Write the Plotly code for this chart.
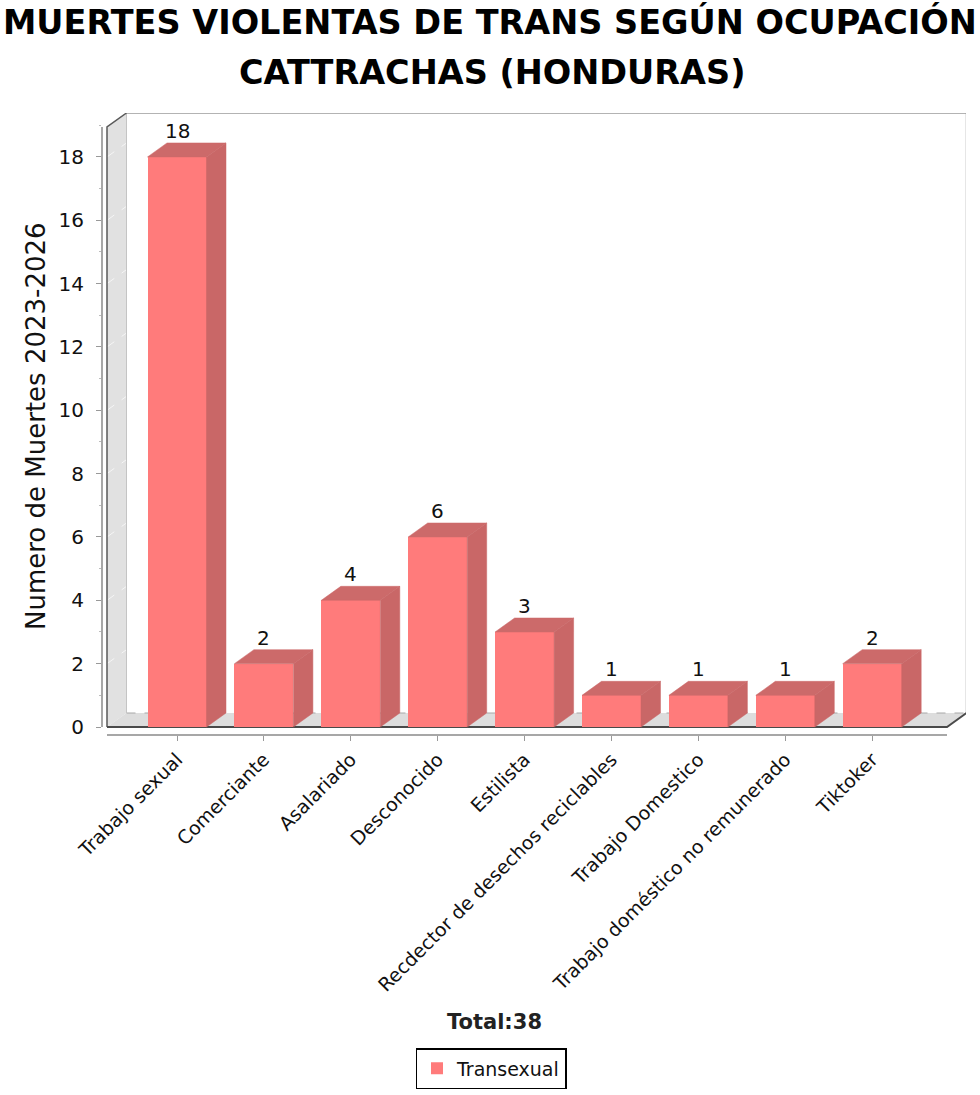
import plotly.graph_objects as go

# ---------------- data ----------------
categories = ["Trabajo sexual", "Comerciante", "Asalariado", "Desconocido", "Estilista",
              "Recdector de desechos reciclables", "Trabajo Domestico",
              "Trabajo doméstico no remunerado", "Tiktoker"]
values = [18, 2, 4, 6, 3, 1, 1, 1, 2]
series_name = "Transexual"
y_ticks = [0, 2, 4, 6, 8, 10, 12, 14, 16, 18]
title_lines = ["MUERTES VIOLENTAS DE TRANS SEGÚN OCUPACIÓN", "CATTRACHAS (HONDURAS)"]
y_title = "Numero de Muertes 2023-2026"
total_text = "Total:38"

# ---------------- layout geometry (pixels) ----------------
W, H = 980, 1095
L, R, T, B = 102, 966, 113, 735          # plot area
CAT0_PX, CAT_STEP = 177.0, 86.9          # category 0 centre, spacing
ZERO_PX, UNIT_PX = 727.0, 31.67          # value 0 pixel, px per unit
DX_PX, DY_PX = 19.5, 14.0                # 3D depth offset
FRONT_L_PX, FRONT_R_PX = 107, 947
BAR_HALF_PX = 29.5

def xv(px):
    return (px - CAT0_PX) / CAT_STEP

def yv(py):
    return (ZERO_PX - py) / UNIT_PX

def xp(px):
    return (px - L) / (R - L)

def yp(py):
    return (B - py) / (B - T)

dx = DX_PX / CAT_STEP
dy = DY_PX / UNIT_PX
hw = BAR_HALF_PX / CAT_STEP
x_fl, x_fr = xv(FRONT_L_PX), xv(FRONT_R_PX)
y_top = yv(127)

FRONT = "#ff7b7b"
SIDE = "#c96767"
TOP = "#cc6a6a"

fig = go.Figure()

shapes = []
shapes.append(dict(type="path", layer="below", xref="x", yref="y",
                   path=f"M{x_fl},0 L{x_fl},{y_top} L{x_fl+dx},{y_top+dy} L{x_fl+dx},{dy} Z",
                   fillcolor="#e1e1e1", line=dict(width=0)))
shapes.append(dict(type="path", layer="below", xref="x", yref="y",
                   path=f"M{x_fl},0 L{x_fr},0 L{x_fr+dx},{dy} L{x_fl+dx},{dy} Z",
                   fillcolor="#dddddd", line=dict(width=0)))
for t in y_ticks[1:]:
    shapes.append(dict(type="line", layer="below", xref="x", yref="y",
                       x0=x_fl, y0=t, x1=x_fl + dx, y1=t + dy,
                       line=dict(color="#f6f6f6", width=1, dash="dash")))
shapes.append(dict(type="line", layer="below", xref="x", yref="y",
                   x0=x_fl + dx, y0=dy, x1=x_fr + dx, y1=dy,
                   line=dict(color="#a8a8a8", width=1, dash="dash")))
shapes.append(dict(type="line", layer="below", xref="x", yref="y",
                   x0=x_fl + dx, y0=dy, x1=x_fl + dx, y1=y_top + dy,
                   line=dict(color="#c4c4c4", width=1)))
shapes.append(dict(type="path", layer="below", xref="x", yref="y",
                   path=f"M{x_fl+dx},{y_top+dy} L{x_fr+dx},{y_top+dy} L{x_fr+dx},{dy}",
                   line=dict(color="#9a9a9a", width=1.5)))
shapes.append(dict(type="path", layer="below", xref="x", yref="y",
                   path=f"M{x_fl},0 L{x_fl},{y_top} L{x_fl+dx},{y_top+dy}",
                   line=dict(color="#5a5a5a", width=1.5)))
shapes.append(dict(type="path", layer="below", xref="x", yref="y",
                   path=f"M{x_fl},0 L{x_fr},0 L{x_fr+dx},{dy}",
                   line=dict(color="#4a4a4a", width=2)))
shapes.append(dict(type="line", layer="above", xref="paper", yref="y",
                   x0=0, y0=0, x1=0, y1=y_top,
                   line=dict(color="#8a8a8a", width=1.5)))
shapes.append(dict(type="line", layer="above", xref="x", yref="paper",
                   x0=x_fl, y0=0, x1=x_fr, y1=0,
                   line=dict(color="#8a8a8a", width=1.5)))

idx = list(range(len(categories)))
fig.add_trace(go.Bar(x=idx, y=values, width=2 * hw, name=series_name,
                     marker=dict(color=FRONT, line=dict(width=0)),
                     showlegend=True, hoverinfo="skip"))

for i, v in zip(idx, values):
    xl, xr = i - hw, i + hw
    fig.add_trace(go.Scatter(x=[xl, xl + dx, xr + dx, xr, xl], y=[v, v + dy, v + dy, v, v],
                             mode="lines", fill="toself", fillcolor=TOP,
                             line=dict(color=TOP, width=0.5), showlegend=False, hoverinfo="skip"))
    fig.add_trace(go.Scatter(x=[xr, xr, xr + dx, xr + dx, xr], y=[0, v, v + dy, dy, 0],
                             mode="lines", fill="toself", fillcolor=SIDE,
                             line=dict(color=SIDE, width=0.5), showlegend=False, hoverinfo="skip"))

annotations = []
for i, v in zip(idx, values):
    annotations.append(dict(x=i, y=v + dy, xref="x", yref="y", text=str(v), showarrow=False,
                            yanchor="bottom", yshift=-2,
                            font=dict(family="DejaVu Sans", size=20, color="#111")))
annotations.append(dict(x=xp(490), y=yp(22), xref="paper", yref="paper", text=title_lines[0],
                        showarrow=False, xanchor="center", yanchor="middle",
                        font=dict(family="DejaVu Sans", size=33.5, color="#000", weight="bold")))
annotations.append(dict(x=xp(492), y=yp(73), xref="paper", yref="paper", text=title_lines[1],
                        showarrow=False, xanchor="center", yanchor="middle",
                        font=dict(family="DejaVu Sans", size=33.5, color="#000", weight="bold")))
annotations.append(dict(x=xp(36), y=yp(426), xref="paper", yref="paper", text=y_title,
                        showarrow=False, textangle=-90, xanchor="center", yanchor="middle",
                        font=dict(family="DejaVu Sans", size=26, color="#111")))
annotations.append(dict(x=xp(494), y=yp(1022), xref="paper", yref="paper", text=total_text,
                        showarrow=False, xanchor="center", yanchor="middle",
                        font=dict(family="DejaVu Sans", size=21, color="#222", weight="bold")))

fig.update_layout(
    width=W, height=H,
    margin=dict(l=L, r=W - R, t=T, b=H - B, autoexpand=False),
    paper_bgcolor="white", plot_bgcolor="white",
    shapes=shapes, annotations=annotations,
    bargap=0,
    showlegend=True,
    legend=dict(x=xp(491), y=yp(1048), xanchor="center", yanchor="top",
                orientation="h", bordercolor="#000", borderwidth=1.5, bgcolor="white",
                font=dict(family="DejaVu Sans", size=19, color="#111"),
                itemwidth=30),
    xaxis=dict(range=[xv(L), xv(R)], tickmode="array", tickvals=idx, ticktext=categories,
               tickangle=-45, ticks="outside", ticklen=5, tickcolor="#999",
               showgrid=False, zeroline=False, showline=False, automargin=False,
               tickfont=dict(family="DejaVu Sans", size=19, color="#111")),
    yaxis=dict(range=[yv(B), yv(T)], tickmode="array", tickvals=y_ticks,
               ticks="outside", ticklen=5, tickcolor="#999", ticklabelstandoff=8,
               minor=dict(ticks="outside", ticklen=2, dtick=1, tick0=0, tickcolor="#bbb"),
               showgrid=False, zeroline=False, showline=False, automargin=False,
               tickfont=dict(family="DejaVu Sans", size=20, color="#111")),
)

fig.write_html("out.html")
